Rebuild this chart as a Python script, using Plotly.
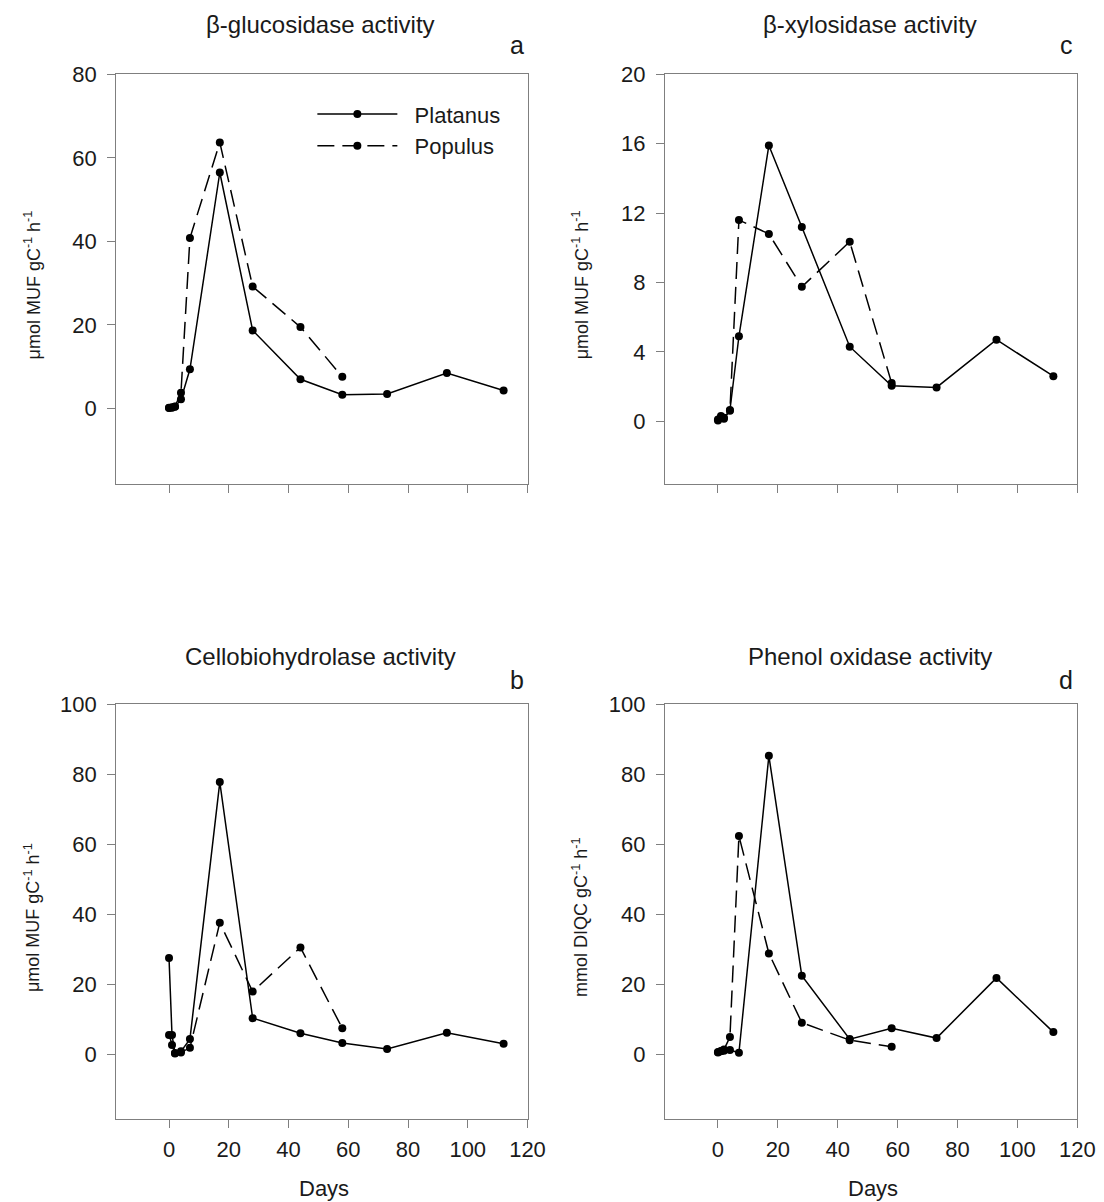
import plotly.graph_objects as go

# ---------------- data ----------------
days_platanus = [0, 1, 2, 4, 7, 17, 28, 44, 58, 73, 93, 112]
days_populus = [0, 1, 2, 4, 7, 17, 28, 44, 58]

# a: beta-glucosidase (umol MUF gC-1 h-1)
glu_platanus = [0.1, 0.2, 0.4, 2.2, 9.4, 56.5, 18.7, 7.0, 3.3, 3.5, 8.5, 4.3]
glu_populus = [0.2, 0.3, 0.5, 3.8, 40.8, 63.7, 29.2, 19.5, 7.6]

# c: beta-xylosidase (umol MUF gC-1 h-1)
xyl_platanus = [0.1, 0.2, 0.15, 0.65, 4.9, 15.9, 11.2, 4.3, 2.05, 1.95, 4.7, 2.6]
xyl_populus = [0.05, 0.3, 0.2, 0.6, 11.6, 10.8, 7.75, 10.35, 2.2]

# b: cellobiohydrolase (umol MUF gC-1 h-1)
cbh_platanus = [27.5, 5.5, 0.3, 0.8, 4.3, 77.8, 10.3, 6.0, 3.2, 1.5, 6.1, 3.0]
cbh_populus = [5.5, 2.6, 0.2, 0.5, 1.8, 37.6, 17.9, 30.5, 7.4]

# d: phenol oxidase (mmol DIQC gC-1 h-1)
phe_platanus = [0.5, 0.8, 1.0, 1.2, 0.4, 85.3, 22.4, 4.3, 7.4, 4.6, 21.8, 6.3]
phe_populus = [0.6, 0.9, 1.3, 4.9, 62.4, 28.8, 9.0, 4.0, 2.1]

x_ticks = [0, 20, 40, 60, 80, 100, 120]
panels = [
    # (title, letter, platanus, populus, yrange, ytick step, ytitle)
    ("β-glucosidase activity", "a", glu_platanus, glu_populus, [-18, 80], 20, "μmol MUF gC<sup>-1</sup> h<sup>-1</sup>"),
    ("β-xylosidase activity", "c", xyl_platanus, xyl_populus, [-3.6, 20], 4, "μmol MUF gC<sup>-1</sup> h<sup>-1</sup>"),
    ("Cellobiohydrolase activity", "b", cbh_platanus, cbh_populus, [-18.5, 100], 20, "μmol MUF gC<sup>-1</sup> h<sup>-1</sup>"),
    ("Phenol oxidase activity", "d", phe_platanus, phe_populus, [-18.5, 100], 20, "mmol DIQC gC<sup>-1</sup> h<sup>-1</sup>"),
]

W, H = 1104, 1202
FONT = "Liberation Sans, Arial, sans-serif"
TXT = "#1a1a1a"
FRAME = "#7f7f7f"


# pixel -> paper helpers (compensate for the small scaling seen in rendering)
def PX(x):
    return (x + 1.6) / 0.9876 / W


def PY(y):
    return 1 - (y - 9.6) / 0.9914 / H


# frame positions in target pixels
xdoms_px = [(115, 528), (666, 1080)]
ydoms_px = [(72, 482), (703, 1118)]

fig = go.Figure()
annotations = []

for i, (title, letter, plat, popu, yr, ystep, ytitle) in enumerate(panels):
    row, col = i // 2, i % 2
    ax = "" if i == 0 else str(i + 1)
    xa, ya = "x" + ax, "y" + ax
    x0, x1 = xdoms_px[col]
    y0, y1 = ydoms_px[row]
    xdom = [PX(x0), PX(x1)]
    ydom = [PY(y1), PY(y0)]

    fig.add_trace(go.Scatter(
        x=days_platanus, y=plat, mode="lines+markers", name="\u00a0\u00a0Platanus",
        line=dict(color="black", width=1.5),
        marker=dict(color="black", size=8, symbol="circle"),
        xaxis=xa, yaxis=ya, showlegend=(i == 0)))
    fig.add_trace(go.Scatter(
        x=days_populus, y=popu, mode="lines+markers", name="\u00a0\u00a0Populus",
        line=dict(color="black", width=1.5, dash="17px,8px"),
        marker=dict(color="black", size=8, symbol="circle"),
        xaxis=xa, yaxis=ya, showlegend=(i == 0)))

    ytv = []
    v = 0
    while v <= yr[1] + 1e-9:
        ytv.append(v)
        v += ystep

    common = dict(showline=True, mirror=True, linecolor=FRAME, linewidth=1,
                  ticks="outside", ticklen=8, tickcolor=FRAME, tickwidth=1,
                  showgrid=False, zeroline=False,
                  tickfont=dict(family=FONT, size=22, color=TXT))
    fig.layout["xaxis" + ax] = dict(
        domain=xdom, range=[-17.7, 120], tickvals=x_ticks,
        showticklabels=(row == 1), anchor=ya, ticklabelstandoff=3, **common)
    fig.layout["yaxis" + ax] = dict(
        domain=ydom, range=yr, tickvals=ytv, anchor=xa, ticklabelstandoff=6, **common)

    annotations.append(dict(text=title, x=PX((x0 + x1) / 2 - 1), y=PY(22 if row == 0 else 655),
                            xref="paper", yref="paper", showarrow=False,
                            xanchor="center", yanchor="middle",
                            font=dict(family=FONT, size=24, color=TXT)))
    annotations.append(dict(text=letter, x=PX(x1 - 2), y=PY(43 if row == 0 else 679),
                            xref="paper", yref="paper", showarrow=False,
                            xanchor="right", yanchor="middle",
                            font=dict(family=FONT, size=25, color=TXT)))
    annotations.append(dict(text=ytitle, x=PX(31 if col == 0 else 581),
                            y=PY((y0 + y1) / 2 + 6),
                            xref="paper", yref="paper", showarrow=False,
                            textangle=-90, xanchor="center", yanchor="middle",
                            font=dict(family=FONT, size=18, color=TXT)))
    if row == 1:
        annotations.append(dict(text="Days", x=PX((x0 + x1) / 2 + 2), y=PY(1188),
                                xref="paper", yref="paper", showarrow=False,
                                xanchor="center", yanchor="middle",
                                font=dict(family=FONT, size=22, color=TXT)))

fig.update_layout(
    width=W, height=H, margin=dict(l=0, r=0, t=0, b=0),
    paper_bgcolor="white", plot_bgcolor="white",
    annotations=annotations,
    legend=dict(x=PX(312), y=PY(91), xanchor="left", yanchor="top",
                bgcolor="rgba(0,0,0,0)", font=dict(family=FONT, size=22, color=TXT),
                itemwidth=80, tracegroupgap=0),
)

fig.write_html("out.html")
